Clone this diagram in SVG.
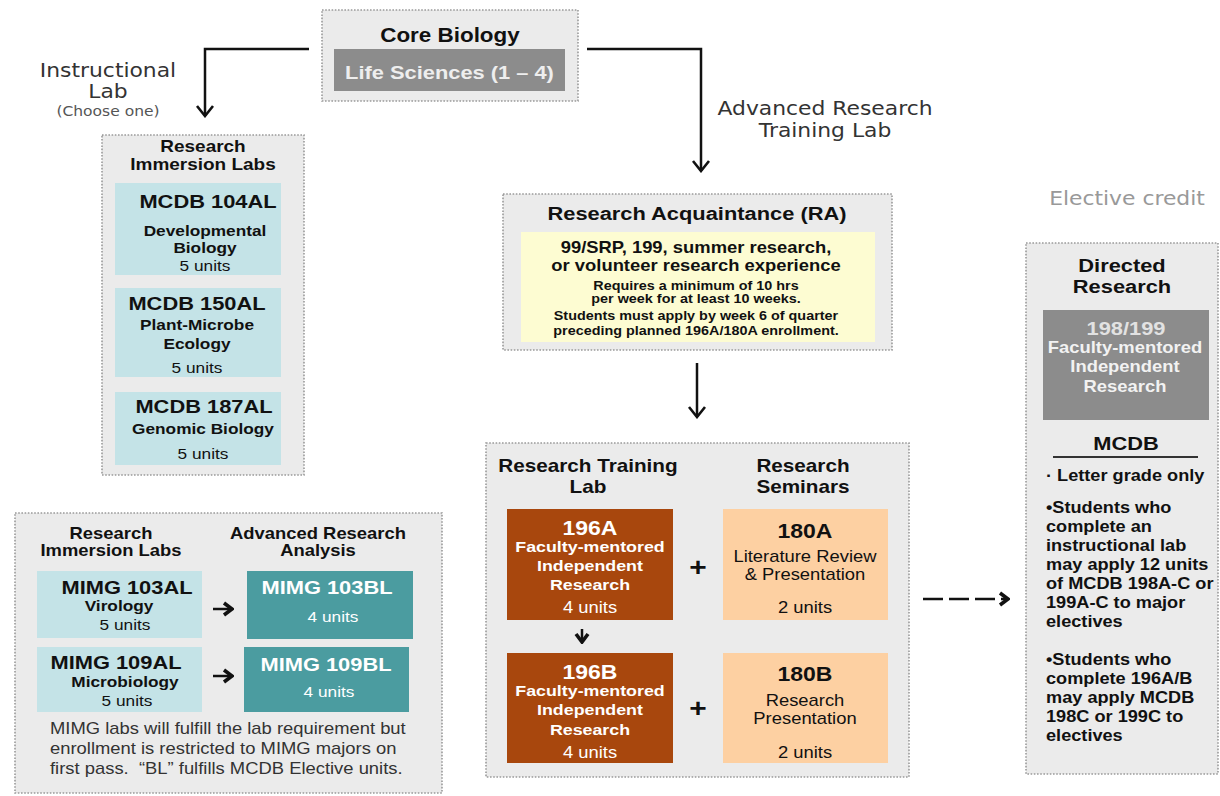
<svg xmlns="http://www.w3.org/2000/svg" width="1220" height="796" viewBox="0 0 1220 796">
<style>
text{font-family:"Liberation Sans",Arial,sans-serif;fill:#111;text-anchor:middle;transform-box:fill-box;transform-origin:center;transform:scale(1.15,1)}
text.l{text-anchor:start;transform-origin:left center}
.b{font-weight:bold}
.v{font-family:"DejaVu Sans",Verdana,sans-serif;fill:#333;font-size:19px}
.box{fill:#ebebeb;stroke:#9a9a9a;stroke-width:1.6;stroke-dasharray:1.6 1.6}
.blue{fill:#c4e3e7}
.teal{fill:#4b9ca0}
.brown{fill:#a8470d}
.peach{fill:#fdd0a2}
.gray{fill:#8c8c8c}
.yellow{fill:#fdfcd2}
.w{fill:#fff}
.lt{fill:#eeeeee}
.h19{font-size:19px}
.h18{font-size:18px}
.h16{font-size:16px}
.h15{font-size:15px}
.ln{fill:none;stroke:#111;stroke-width:2.5}
</style>
<defs>
<marker id="ah" viewBox="-12 -10 14 20" markerWidth="14" markerHeight="20" refX="0" refY="0" orient="auto" markerUnits="userSpaceOnUse">
<path d="M-10,-8 L0,0 L-10,8" fill="none" stroke="#111" stroke-width="2.6"/>
</marker>
<marker id="hh" viewBox="-12 -10 14 20" markerWidth="14" markerHeight="20" refX="0" refY="0" orient="auto" markerUnits="userSpaceOnUse">
<path d="M-8,-6 L0,0 L-8,6" fill="none" stroke="#111" stroke-width="3.6"/>
</marker>
</defs>
<rect width="1220" height="796" fill="#fff"/>

<g id="labels">
<text class="v" x="108" y="77">Instructional</text>
<text class="v" x="108" y="98">Lab</text>
<text class="v" x="108" y="116" style="font-size:13.5px;fill:#555">(Choose one)</text>
<text class="v" x="825" y="115">Advanced Research</text>
<text class="v" x="825" y="137">Training Lab</text>
<text class="v" x="1127" y="205" style="fill:#999">Elective credit</text>
</g>

<g id="core-biology">
<rect class="box" x="322" y="10" width="256" height="91"/>
<text class="b" x="450" y="42" style="font-size:19.5px">Core Biology</text>
<rect class="gray" x="334" y="49" width="231" height="42"/>
<text class="b h19 lt" x="449.5" y="79">Life Sciences (1 – 4)</text>
</g>

<g id="research-immersion-labs">
<rect class="box" x="102" y="135" width="202" height="340"/>
<text class="b" x="203" y="152" style="font-size:16.5px">Research</text>
<text class="b" x="203" y="170" style="font-size:16.5px">Immersion Labs</text>
<g id="mcdb-104al">
<rect class="blue" x="115" y="183" width="166" height="92"/>
<text class="b h19" x="208" y="208">MCDB 104AL</text>
<text class="b h15" x="205" y="236">Developmental</text>
<text class="b h15" x="205" y="253">Biology</text>
<text class="h15" x="205" y="271">5 units</text>
</g>
<g id="mcdb-150al">
<rect class="blue" x="115" y="288" width="166" height="89"/>
<text class="b h19" x="197" y="310">MCDB 150AL</text>
<text class="b h15" x="197" y="330">Plant-Microbe</text>
<text class="b h15" x="197" y="349">Ecology</text>
<text class="h15" x="197" y="373">5 units</text>
</g>
<g id="mcdb-187al">
<rect class="blue" x="115" y="392" width="166" height="73"/>
<text class="b h19" x="204" y="413">MCDB 187AL</text>
<text class="b h15" x="203" y="434">Genomic Biology</text>
<text class="h15" x="203" y="459">5 units</text>
</g>
</g>

<g id="mimg-labs">
<rect class="box" x="15" y="513" width="427" height="280"/>
<text class="b h16" x="111" y="539">Research</text>
<text class="b h16" x="111" y="556">Immersion Labs</text>
<text class="b h16" x="318" y="539">Advanced Research</text>
<text class="b h16" x="318" y="556">Analysis</text>
<g id="mimg-103al">
<rect class="blue" x="37" y="571" width="165" height="67"/>
<text class="b h19" x="127" y="594">MIMG 103AL</text>
<text class="b h15" x="119" y="611">Virology</text>
<text class="h15" x="125" y="630">5 units</text>
</g>
<g id="mimg-103bl">
<rect class="teal" x="247" y="571" width="166" height="68"/>
<text class="b h19 w" x="327" y="594">MIMG 103BL</text>
<text class="h15 w" x="333" y="622">4 units</text>
</g>
<g id="mimg-109al">
<rect class="blue" x="37" y="647" width="165" height="65"/>
<text class="b h19" x="116" y="669">MIMG 109AL</text>
<text class="b h15" x="125" y="687">Microbiology</text>
<text class="h15" x="127" y="706">5 units</text>
</g>
<g id="mimg-109bl">
<rect class="teal" x="244" y="647" width="165" height="65"/>
<text class="b h19 w" x="326" y="671">MIMG 109BL</text>
<text class="h15 w" x="329" y="697">4 units</text>
</g>
<text class="l h16" x="50" y="734" style="fill:#333">MIMG labs will fulfill the lab requirement but</text>
<text class="l h16" x="50" y="754" style="fill:#333">enrollment is restricted to MIMG majors on</text>
<text class="l h16" x="50" y="774" style="fill:#333">first pass.&#160; “BL” fulfills MCDB Elective units.</text>
</g>

<g id="research-acquaintance">
<rect class="box" x="503" y="194" width="389" height="156"/>
<text class="b h19" x="697" y="220">Research Acquaintance (RA)</text>
<rect class="yellow" x="521" y="232" width="354" height="110"/>
<text class="b h16" x="696" y="253">99/SRP, 199, summer research,</text>
<text class="b h16" x="696" y="271">or volunteer research experience</text>
<text class="b" x="696" y="290" style="font-size:12.5px">Requires a minimum of 10 hrs</text>
<text class="b" x="696" y="303" style="font-size:12.5px">per week for at least 10 weeks.</text>
<text class="b" x="696" y="320" style="font-size:12.5px">Students must apply by week 6 of quarter</text>
<text class="b" x="696" y="335" style="font-size:12.5px">preceding planned 196A/180A enrollment.</text>
</g>

<g id="research-training">
<rect class="box" x="486" y="443" width="423" height="334"/>
<text class="b h18" x="588" y="472">Research Training</text>
<text class="b h18" x="588" y="493">Lab</text>
<text class="b h18" x="803" y="472">Research</text>
<text class="b h18" x="803" y="493">Seminars</text>
<g id="c196a">
<rect class="brown" x="507" y="509" width="166" height="111"/>
<text class="b w" x="590" y="535" style="font-size:20px">196A</text>
<text class="b w" x="590" y="552" style="font-size:15.5px">Faculty-mentored</text>
<text class="b w" x="590" y="571" style="font-size:15.5px">Independent</text>
<text class="b w" x="590" y="590" style="font-size:15.5px">Research</text>
<text class="w h16" x="590" y="613">4 units</text>
</g>
<g id="c180a">
<rect class="peach" x="723" y="509" width="165" height="111"/>
<text class="b" x="805" y="538" style="font-size:20px">180A</text>
<text class="h16" x="805" y="562">Literature Review</text>
<text class="h16" x="805" y="580">&amp; Presentation</text>
<text class="h16" x="805" y="613">2 units</text>
</g>
<g id="c196b">
<rect class="brown" x="507" y="653" width="166" height="110"/>
<text class="b w" x="590" y="679" style="font-size:20px">196B</text>
<text class="b w" x="590" y="696" style="font-size:15.5px">Faculty-mentored</text>
<text class="b w" x="590" y="715" style="font-size:15.5px">Independent</text>
<text class="b w" x="590" y="735" style="font-size:15.5px">Research</text>
<text class="w h16" x="590" y="758">4 units</text>
</g>
<g id="c180b">
<rect class="peach" x="723" y="653" width="165" height="110"/>
<text class="b" x="805" y="681" style="font-size:20px">180B</text>
<text class="h16" x="805" y="706">Research</text>
<text class="h16" x="805" y="724">Presentation</text>
<text class="h16" x="805" y="758">2 units</text>
</g>
<text class="b" x="698" y="576" style="font-size:26px">+</text>
<text class="b" x="698" y="717" style="font-size:26px">+</text>
</g>

<g id="directed-research">
<rect class="box" x="1026" y="243" width="192" height="531"/>
<text class="b h19" x="1122" y="272">Directed</text>
<text class="b h19" x="1122" y="293">Research</text>
<rect class="gray" x="1043" y="310" width="166" height="110"/>
<text class="b h19" x="1126" y="335" style="fill:#e2e2e2">198/199</text>
<text class="b h16" x="1125" y="353" style="fill:#f2f2f2">Faculty-mentored</text>
<text class="b h16" x="1125" y="372" style="fill:#f2f2f2">Independent</text>
<text class="b h16" x="1125" y="392" style="fill:#f2f2f2">Research</text>
<text class="b h19" x="1126" y="450">MCDB</text>
<line x1="1053" y1="457" x2="1198" y2="457" stroke="#333" stroke-width="2"/>
<g style="font-size:15.8px">
<text class="b l" x="1046" y="481">· Letter grade only</text>
<text class="b l" x="1046" y="513">•Students who</text>
<text class="b l" x="1046" y="532">complete an</text>
<text class="b l" x="1046" y="551">instructional lab</text>
<text class="b l" x="1046" y="570">may apply 12 units</text>
<text class="b l" x="1046" y="589">of MCDB 198A-C or</text>
<text class="b l" x="1046" y="608">199A-C to major</text>
<text class="b l" x="1046" y="627">electives</text>
<text class="b l" x="1046" y="665">•Students who</text>
<text class="b l" x="1046" y="684">complete 196A/B</text>
<text class="b l" x="1046" y="703">may apply MCDB</text>
<text class="b l" x="1046" y="722">198C or 199C to</text>
<text class="b l" x="1046" y="741">electives</text>
</g>
</g>

<g id="connectors">
<path class="ln" d="M309,49 H205 V116" marker-end="url(#ah)"/>
<path class="ln" d="M587,49 H701 V171" marker-end="url(#ah)"/>
<path class="ln" d="M697,363 V417" marker-end="url(#ah)"/>
<path class="ln" d="M582,629 V642" marker-end="url(#hh)" stroke-width="2"/>
<path class="ln" d="M213,609 H232" marker-end="url(#hh)"/>
<path class="ln" d="M213,676 H232" marker-end="url(#hh)"/>
<path class="ln" d="M923,599 H1008" stroke-width="3" stroke-dasharray="20 6" marker-end="url(#hh)"/>
</g>
</svg>
